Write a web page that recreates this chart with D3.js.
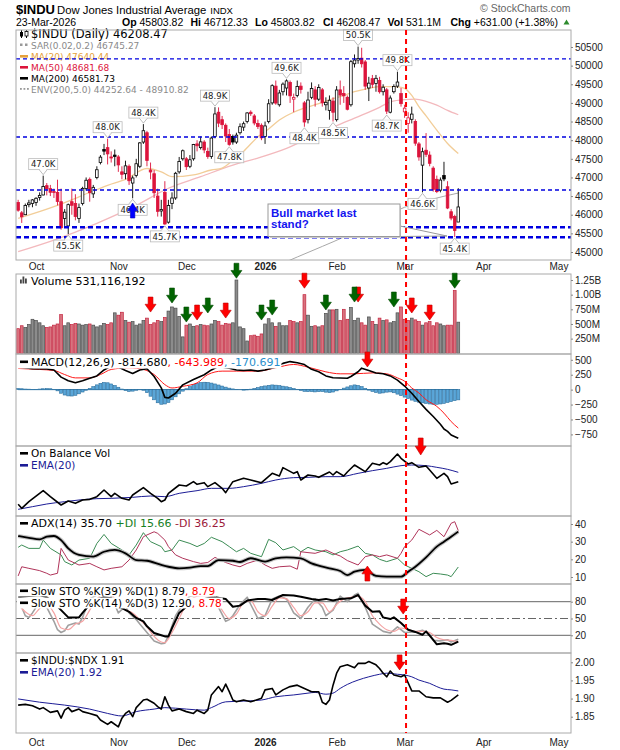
<!DOCTYPE html>
<html>
<head>
<meta charset="utf-8">
<script src="https://cdn.jsdelivr.net/npm/d3@7"></script>
<style>
  body { margin: 0; background: #fff; }
  svg { display: block; }
  .axis text { font-family: "Liberation Sans", Arial, sans-serif; font-size: 10px; fill: #222; }
  .axis line { stroke: #888; }
  .axis path { display: none; }
  .leg { font-family: "DejaVu Sans", Verdana, sans-serif; font-size: 11px; }
  .leg.small { font-size: 9px; }
  .leg.big { font-size: 11.5px; }
  .leg.pair { font-size: 10.5px; }
  .hdr { font-family: "Liberation Sans", Arial, sans-serif; fill: #000; }
</style>
</head>
<body>
<svg id="chart" width="620" height="750"></svg>
<script>
// ---- daily candles, 24-Sep-2025 .. 23-Mar-2026 ----
const opens = [46330,46050,46000,46270,46300,46330,46460,46530,46780,46700,
  46620,46600,46350,45900,45700,46350,46300,45900,46300,46700,
  46950,46560,47000,47400,47750,47800,47550,47600,47550,47150,
  47100,47300,46850,47050,47300,47950,48200,47200,47100,46500,
  46100,46600,45800,46300,46450,47150,47500,47500,47300,47500,
  47900,47800,47950,47700,47560,48100,48750,48550,48400,48150,
  48100,47950,48200,48350,48500,48750,48650,48450,48400,48100,
  48500,49000,49450,48950,49300,49400,49550,49100,49200,49450,
  49000,48550,49150,49350,49100,49350,48950,48800,49050,48550,
  49350,49250,49150,48950,50050,50150,50200,50100,49400,49650,
  49520,49600,49300,49350,48750,49300,49450,49250,48760,48450,
  48560,48500,47900,47330,47730,47600,47250,46950,46660,47050,
  46750,46080,45950,45803.82];
const highs = [46400,46100,46300,46400,46420,46470,46600,47049,46850,46800,
  46700,46940,46700,46150,46300,46700,46550,46300,46750,47000,
  47000,46800,47300,47600,47900,48040,47700,47750,47600,47300,
  47450,47350,47050,47500,47950,48431,48250,47400,47200,46700,
  46400,46900,46400,46600,47150,47550,47750,47550,47600,47900,
  48000,48100,48000,47800,48100,48886,48880,48650,48450,48300,
  48150,48200,48450,48500,48750,48800,48700,48550,48450,48500,
  49100,49500,49600,49350,49550,49633,49600,49250,49600,49550,
  49050,49300,49550,49450,49500,49400,49150,49200,49150,49450,
  49600,49450,49200,50150,50300,50512,50480,50150,49700,49750,
  49750,49700,49500,49400,49200,49500,49838,49400,48950,48750,
  48900,48560,47950,47800,48190,47700,47300,47050,47000,47420,
  46900,46150,46000,46712.33];
const lows = [46080,45780,45990,46200,46200,46240,46380,46520,46520,46500,
  46450,46250,45600,45700,45480,46000,45850,45780,46250,46650,
  46350,46450,46950,47350,47600,47350,47400,47300,47150,46950,
  46950,46800,46440,47000,47250,47900,47300,46950,46450,45950,
  45950,45728,45760,46150,46400,47100,47450,47200,47250,47450,
  47700,47750,47650,47500,47500,48050,48350,48300,47950,47850,
  47880,47900,48150,48250,48450,48650,48400,48300,48000,47900,
  48450,48950,48950,48900,49200,49200,49000,48750,49150,49250,
  48360,48450,49100,48900,49050,48900,48800,48550,48500,48500,
  48950,49000,48800,48900,49950,50050,49950,49350,49050,49400,
  49300,49250,49200,48700,48720,49250,49400,48900,48600,48200,
  48450,47850,47450,46600,47550,47300,46620,46580,46600,46900,
  46150,45850,45400,45803.82];
const closes = [46121,45947,46247,46316,46398,46441,46519,46758,46695,46603,
  46602,46358,45650,46068,46270,46253,45952,46191,46707,46925,
  46590,46735,47207,47545,47706,47632,47522,47563,47337,47085,
  47311,46912,46987,47368,47927,48254,47457,47147,46590,46091,
  46138,45752,46245,46448,47112,47427,47716,47289,47474,47882,
  47850,47955,47739,47560,48057,48704,48458,48416,48114,47886,
  47951,48135,48362,48442,48731,48710,48461,48367,48063,48382,
  48977,49462,48996,49266,49504,49590,49191,49149,49442,49359,
  48488,49077,49384,49098,49412,49003,49015,49071,48750,49346,
  49210,49190,48830,50106,50150,50190,50050,49450,49530,49500,
  49660,49300,49420,48780,49130,49440,49560,48980,48860,48600,
  48700,47920,47550,47690,47620,47380,46680,46620,46930,46960,
  46180,45910,45577.47,46208.47];
const prevClose0 = 46292;

// volume, millions
const volumes = [420,470,440,490,580,560,520,470,440,450,
  480,500,660,470,520,490,510,500,480,490,
  500,480,450,470,510,490,520,690,650,700,
  560,530,540,480,500,560,600,490,520,560,
  540,610,720,790,770,630,280,480,500,460,
  470,490,480,470,500,560,540,480,510,500,
  520,1250,450,420,210,300,310,290,330,500,
  590,520,460,520,470,470,560,540,520,540,
  1000,650,460,470,450,470,680,740,740,750,
  560,750,580,780,560,600,520,480,620,540,
  490,600,560,570,520,540,690,790,580,560,
  600,570,540,480,520,540,470,520,500,470,
  480,480,1070,531];

// moving averages [day index, price]
const ma20 = [[0,45900],[10,46215],[17,46480],[25,46790],[30,46950],[36,47240],[40,47150],[43,47020],[49,47070],[54,47200],[57,47250],[60,47460],[63,47700],[67,48090],[70,48300],[73,48540],[77,48750],[80,48860],[84,48980],[87,49080],[91,49200],[94,49300],[98,49390],[101,49435],[104,49435],[106,49430],[108,49390],[110,49200],[112,48900],[114,48650],[117,48270],[120,47910],[123,47640]];
const ma50 = [[0,45010],[10,45320],[22,45770],[33,46250],[42,46710],[51,47020],[60,47330],[67,47520],[75,47780],[84,48185],[94,48590],[101,48880],[104,49030],[108,49090],[111,49100],[114,49040],[117,48940],[120,48800],[123,48682]];
const ma200 = [[74,44700],[78,44866],[85,45150],[91,45400],[100,45830],[108,46200],[115,46400],[123,46582]];

const levelsThin = [50180, 48085, 46663];
const levelsThick = [45665, 45395];
const peakLabels = [[7,"47.0K","hi"],[14,"45.5K","lo"],[25,"48.0K","hi"],[32,"46.4K","lo"],[35,"48.4K","hi"],[41,"45.7K","lo"],[55,"48.9K","hi"],[59,"47.8K","lo"],[75,"49.6K","hi"],[80,"48.4K","lo"],[88,"48.5K","lo"],[95,"50.5K","hi"],[103,"48.7K","lo"],[106,"49.8K","hi"],[113,"46.6K","lo"],[122,"45.4K","lo"]];

// MACD
const macdLine = [[0,380],[4,350],[8,345],[10,330],[12,210],[14,150],[16,115],[18,150],[20,190],[22,230],[24,330],[26,400],[28,380],[30,320],[32,270],[34,330],[36,350],[38,220],[40,30],[41,-130],[42,-140],[44,-60],[46,80],[49,170],[52,250],[54,330],[56,390],[59,360],[61,330],[63,320],[65,330],[67,310],[69,330],[72,380],[74,440],[76,470],[78,450],[80,420],[82,340],[84,300],[86,230],[88,200],[90,195],[92,190],[93,220],[95,300],[96,360],[98,320],[100,280],[102,265],[104,230],[106,160],[108,60],[110,-60],[112,-200],[114,-330],[116,-450],[118,-580],[119,-660],[120,-700],[121,-760],[123,-815]];
const macdSignal = [[0,355],[6,338],[10,321],[13,253],[16,197],[20,197],[23,253],[26,338],[31,366],[35,338],[38,253],[41,84],[43,28],[46,56],[50,113],[53,253],[57,310],[61,310],[67,310],[72,366],[77,422],[81,377],[86,298],[90,265],[94,265],[99,281],[103,265],[106,197],[108,141],[110,28],[112,-56],[114,-169],[117,-281],[119,-394],[121,-535],[123,-644]];
const macdHist = [20,15,10,8,5,5,10,15,18,15,
  5,-20,-60,-90,-105,-107,-95,-70,-40,-10,
  20,50,80,105,120,115,95,70,40,10,
  -15,-30,-25,-10,5,-10,-50,-110,-170,-220,
  -245,-240,-215,-170,-120,-70,-25,15,50,85,
  105,118,124,120,110,95,78,60,42,25,
  12,5,0,-8,-4,8,20,35,50,62,
  72,79,75,68,58,48,35,18,2,-12,
  -28,-34,-32,-38,-34,-32,-42,-50,-40,-20,
  5,25,45,65,79,70,50,22,-8,-30,
  -48,-60,-55,-42,-38,-52,-75,-100,-125,-150,
  -175,-195,-210,-222,-232,-240,-245,-245,-240,-230,
  -215,-200,-185,-171];

// On Balance Volume (billions)
const obvLine = [[0,1.7],[1,0.5],[3,2.5],[7,5.8],[9,4.0],[12,1.5],[14,2.7],[16,2.0],[18,3.0],[20,3.2],[22,4.0],[24,6.0],[26,4.0],[27,5.0],[29,3.5],[31,3.0],[32,4.5],[35,6.7],[37,5.0],[39,3.5],[40,2.5],[41,3.0],[42,5.0],[45,7.5],[47,7.2],[49,8.5],[50,7.7],[52,8.2],[53,7.0],[55,8.2],[57,6.5],[58,5.2],[60,8.5],[63,9.5],[65,9.0],[68,8.2],[71,11.0],[73,10.2],[74,12.7],[77,11.0],[78,11.5],[79,9.0],[81,10.5],[83,10.2],[84,9.8],[87,11.4],[88,10.5],[89,11.5],[91,10.2],[92,11.4],[94,13.5],[97,11.5],[99,14.0],[101,13.5],[102,14.2],[103,13.7],[104,14.5],[106,16.8],[107,15.5],[109,13.8],[110,14.2],[112,12.8],[114,13.2],[115,12.0],[117,9.5],[119,11.0],[120,10.0],[121,7.8],[123,8.5]];
const obvEma = [[0,0.2],[4,1.0],[8,1.8],[13,2.5],[17,3.0],[22,3.4],[26,3.5],[32,3.8],[37,4.2],[41,4.0],[45,5.0],[50,5.8],[54,6.5],[59,6.5],[63,7.0],[68,8.0],[72,9.0],[77,9.7],[81,9.8],[86,10.0],[90,10.0],[95,11.0],[99,11.8],[103,12.5],[107,13.3],[110,13.5],[114,13.3],[117,12.8],[120,12.2],[123,11.3]];

// ADX / DI
const adxLine = [[0,33.2],[3,32.2],[6,31.3],[8,32.8],[10,33.2],[12,30.9],[14,26.2],[17,22.5],[21,21.5],[24,24.3],[27,25.3],[30,23.4],[33,19.6],[36,19.2],[40,16.8],[42,15.8],[45,14.9],[48,15.3],[51,16.2],[53,16.2],[56,19.6],[60,19.2],[62,18.5],[65,20.6],[69,18.7],[72,20.6],[75,21.1],[79,20.6],[82,17.7],[87,14.9],[90,13.4],[92,11.1],[94,13],[97,14],[100,10.6],[103,10.2],[107,10.2],[109,13],[111,15.8],[114,21.1],[117,27.2],[119,30],[121,32.8],[123,35.7]];
const plusDI = [[0,26.8],[1,28.1],[3,26.2],[6,26.2],[7,30.9],[9,26.2],[12,22.5],[13,18.7],[15,16.8],[17,19.6],[20,20.6],[22,29],[24,34.1],[26,29],[29,25.3],[31,22.5],[33,28.1],[35,35.1],[37,30],[40,27.2],[41,24.3],[43,25.3],[45,30.9],[48,29],[50,27.2],[52,29],[54,32.5],[57,30],[59,27.2],[61,24.3],[63,26.2],[65,23.4],[68,21.5],[70,31.3],[72,29.4],[74,25.3],[77,27.2],[79,24.3],[81,26.8],[83,25.3],[86,24.3],[88,22.5],[90,24.3],[92,25.3],[95,27.5],[97,23.4],[99,22.5],[101,20],[103,18.7],[106,20.6],[108,16.8],[110,14.9],[112,13],[114,10.2],[116,12.1],[118,11.7],[120,11.1],[121,10.2],[123,15.66]];
const minusDI = [[0,10.6],[1,15.8],[3,14.9],[6,13.6],[8,12.1],[9,11.1],[11,12.1],[12,26.2],[14,19.6],[16,17.7],[17,16.8],[20,17.7],[22,15.8],[24,14],[26,14.9],[29,15.8],[31,19.6],[33,25.3],[35,32.8],[36,33.8],[38,35.6],[39,34.7],[41,30.9],[42,27.2],[44,22.5],[46,20.6],[49,18.7],[51,17.7],[53,18.2],[55,21.1],[58,18.2],[60,16.8],[62,15.8],[64,17.7],[67,19.6],[69,16.8],[71,14.9],[73,15.8],[76,16.2],[78,14.4],[79,24.3],[81,23.8],[83,23.4],[86,25.3],[88,23.4],[90,21.9],[92,19.3],[95,16.8],[97,21.5],[99,22.5],[101,21.5],[103,22.5],[106,20.6],[107,23.4],[108,27.2],[110,30.9],[112,37],[115,33.8],[117,36.4],[119,32.8],[121,40.4],[122,41.3],[123,36.25]];

// Slow stochastics
const sto39 = [[0,88],[3,90],[6,92],[8,88],[10,78],[12,65],[14,52],[17,52],[18,60],[20,75],[22,84],[24,88],[26,86],[28,72],[31,62],[33,51],[35,45],[36,36],[38,24],[40,20],[41,18],[42,18],[43,33],[45,60],[47,71],[49,80],[51,83],[53,86],[55,88],[58,85],[60,71],[62,73],[64,82],[67,85],[69,85],[71,83],[74,92],[77,91],[79,89],[82,85],[84,83],[86,85],[88,82],[90,85],[93,86],[95,92],[97,73],[99,62],[101,63],[102,52],[104,49],[105,52],[107,42],[109,30],[111,26],[113,21],[114,27],[116,12],[117,4],[119,6],[120,5],[121,3],[123,8.79]];
const sto14K = [[0,78],[1,70],[2,55],[3,52],[4,60],[6,80],[8,70],[10,45],[11,30],[12,25],[13,28],[14,38],[16,42],[17,40],[18,52],[20,85],[22,92],[24,95],[26,90],[27,75],[28,60],[30,72],[31,60],[33,48],[34,40],[36,25],[38,10],[40,5],[41,6],[42,19],[44,55],[46,75],[48,90],[50,92],[52,93],[54,90],[56,70],[58,45],[59,48],[60,55],[62,75],[64,88],[65,75],[67,50],[69,55],[71,85],[73,90],[75,85],[77,60],[79,50],[81,70],[83,85],[85,70],[86,55],[88,65],[90,90],[92,80],[94,92],[95,95],[97,70],[99,40],[102,27],[104,24],[106,35],[108,25],[111,26],[113,29],[115,22],[116,11],[118,10],[120,12],[121,8],[123,12.9]];
const sto14D = [[0,75],[2,62],[4,55],[6,68],[8,75],[10,60],[12,33],[14,30],[16,40],[18,45],[20,65],[22,85],[24,93],[26,92],[28,75],[30,65],[32,60],[34,48],[36,35],[38,18],[40,8],[41,7],[43,25],[45,50],[47,75],[49,87],[51,91],[53,91],[55,85],[57,65],[59,50],[61,58],[63,78],[65,82],[67,62],[69,55],[71,72],[73,87],[75,85],[77,70],[79,55],[81,62],[83,78],[85,78],[87,62],[89,75],[91,85],[93,88],[95,90],[97,80],[99,55],[101,40],[103,30],[105,27],[107,33],[109,30],[111,27],[113,27],[115,25],[117,16],[119,12],[121,11],[123,8.78]];

// $INDU:$NDX ratio
const ratioLine = [[0,1.882],[2,1.884],[4,1.880],[6,1.871],[7,1.875],[9,1.862],[11,1.866],[12,1.846],[13,1.868],[14,1.875],[15,1.864],[17,1.871],[18,1.864],[20,1.859],[22,1.853],[23,1.841],[25,1.829],[26,1.836],[28,1.822],[29,1.846],[30,1.859],[31,1.866],[32,1.850],[33,1.875],[35,1.896],[36,1.898],[38,1.887],[39,1.878],[40,1.871],[41,1.905],[42,1.882],[43,1.866],[45,1.871],[47,1.864],[49,1.859],[50,1.868],[52,1.859],[53,1.868],[54,1.910],[56,1.933],[57,1.919],[58,1.940],[59,1.919],[60,1.896],[61,1.891],[63,1.896],[65,1.891],[68,1.901],[69,1.924],[71,1.928],[72,1.910],[74,1.924],[76,1.933],[78,1.937],[80,1.928],[82,1.919],[84,1.919],[85,1.890],[86,1.884],[87,1.896],[88,1.937],[89,1.970],[90,1.988],[92,1.993],[94,1.985],[95,1.997],[97,1.997],[98,2.002],[100,1.993],[101,1.983],[102,1.970],[103,1.960],[104,1.976],[105,1.965],[107,1.960],[108,1.965],[110,1.921],[112,1.921],[114,1.905],[116,1.902],[118,1.902],[120,1.890],[121,1.895],[123,1.910]];
const ratioEma = [[0,1.899],[6,1.890],[13,1.882],[20,1.871],[25,1.859],[29,1.852],[33,1.864],[38,1.871],[41,1.875],[47,1.871],[52,1.868],[54,1.875],[58,1.891],[63,1.893],[68,1.896],[72,1.905],[77,1.910],[81,1.915],[83,1.917],[86,1.912],[88,1.915],[90,1.928],[92,1.939],[95,1.951],[98,1.960],[101,1.967],[103,1.970],[106,1.967],[108,1.965],[110,1.960],[112,1.951],[115,1.942],[117,1.933],[119,1.926],[121,1.924],[123,1.921]];

// annotation arrows: [day index, value at tip]
const volArrowsRed = [[37,703],[50,567],[58,601],[80,1110],[95,874],[110,687],[115,567]];
const volArrowsGreen = [[43,857],[47,533],[53,687],[61,1280],[68,567],[71,652],[86,738],[94,874],[105,789],[122,1110]];

const monthIdx = [5, 28, 47, 69, 89, 108, 130, 151];
const monthNames = ["Oct", "Nov", "Dec", "2026", "Feb", "Mar", "Apr", "May"];

// ---------------------------------------------------------------
const svg = d3.select("#chart");
const L = 16, R = 571;
const x = d3.scaleLinear().domain([-0.6, 154.5]).range([L, R]);

const panels = {
  price: [30, 260], vol: [274, 354], macd: [354, 446], obv: [446, 516],
  adx: [516, 584], sto: [584, 653], ratio: [653, 733],
};

const yPrice = d3.scaleLinear().domain([45000, 50500]).range([252, 47]);
const yVol = d3.scaleLinear().domain([0, 1250]).range([353.3, 280]);
const yMacd = d3.scaleLinear().domain([-750, 500]).range([434.4, 359.8]);
const yObv = d3.scaleLinear().domain([-1.8, 19.2]).range([516, 446]);
const yAdx = d3.scaleLinear().domain([10, 40]).range([577, 524]);
const ySto = d3.scaleLinear().domain([20, 80]).range([635.3, 601.7]);
const yRatio = d3.scaleLinear().domain([1.85, 2.0]).range([716.7, 662.3]);

const defs = svg.append("defs");
Object.entries(panels).forEach(([name, [t, b]]) => {
  defs.append("clipPath").attr("id", "clip-" + name)
    .append("rect").attr("x", L).attr("y", t).attr("width", R - L).attr("height", b - t);
});
const layer = name => svg.append("g").attr("clip-path", `url(#clip-${name})`);

const lineOf = (y, curve) => d3.line().x(d => x(d[0])).y(d => y(d[1])).curve(curve || d3.curveLinear);
function drawLine(g, data, y, color, width, curve) {
  return g.append("path").datum(data).attr("fill", "none").attr("stroke", color)
    .attr("stroke-width", width).attr("stroke-linejoin", "round").attr("d", lineOf(y, curve));
}

const RED = "#dc143c";
const days = closes.map((c, i) => ({
  i, o: opens[i], h: highs[i], l: lows[i], c,
  up: c >= (i ? closes[i - 1] : prevClose0),
}));

// ---- header ----
svg.append("text").attr("class", "hdr").attr("x", 16).attr("y", 14)
  .style("font-size", "13px").style("font-weight", "bold").text("$INDU");
const titleEl = svg.append("text").attr("class", "hdr").attr("x", 57).attr("y", 14)
  .style("font-size", "11.3px").text("Dow Jones Industrial Average");
const titleEnd = 57 + titleEl.node().getComputedTextLength();
svg.append("text").attr("class", "hdr").attr("x", titleEnd + 4).attr("y", 14)
  .style("font-size", "9.5px").text("INDX");
svg.append("text").attr("class", "hdr").attr("x", 480).attr("y", 12)
  .style("font-size", "10.5px").style("fill", "#666").text("\u00A9 StockCharts.com");
svg.append("text").attr("class", "hdr").attr("x", 16).attr("y", 25.5)
  .style("font-size", "10.5px").text("23-Mar-2026");
const quote = [[122, "Op", "45803.82"], [190.5, "Hi", "46712.33"], [255, "Lo", "45803.82"],
  [323, "Cl", "46208.47"], [387.5, "Vol", "531.1M"], [450.5, "Chg", "+631.00 (+1.38%)"]];
quote.forEach(([qx, k, v]) => {
  const t = svg.append("text").attr("class", "hdr").attr("x", qx).attr("y", 25.5).style("font-size", "10.5px");
  t.append("tspan").style("font-weight", "bold").text(k + " ");
  t.append("tspan").text(v);
});
svg.append("path").attr("d", "M563.5,24.5 L566.5,19.5 L569.5,24.5 Z").attr("fill", "#2e8b2e");

// ---- price panel ----
const gp = layer("price");
drawLine(gp, ma200, yPrice, "#a8a8a8", 1, d3.curveMonotoneX);
drawLine(gp, ma50, yPrice, "#f3b9bd", 1.3, d3.curveMonotoneX);
drawLine(gp, ma20, yPrice, "#f2cd98", 1.3, d3.curveMonotoneX);

const cw = 2.6;
gp.selectAll("line.wick").data(days).join("line").attr("class", "wick")
  .attr("x1", d => x(d.i)).attr("x2", d => x(d.i))
  .attr("y1", d => yPrice(d.h)).attr("y2", d => yPrice(d.l))
  .attr("stroke", d => d.up ? "#000" : RED).attr("stroke-width", 0.9);
gp.selectAll("rect.body").data(days).join("rect").attr("class", "body")
  .attr("x", d => x(d.i) - cw / 2).attr("width", cw)
  .attr("y", d => yPrice(Math.max(d.o, d.c)))
  .attr("height", d => Math.max(0.8, Math.abs(yPrice(d.o) - yPrice(d.c))))
  .attr("fill", d => d.c < d.o ? (d.up ? "#000" : RED) : "#fff")
  .attr("stroke", d => d.up ? "#000" : RED).attr("stroke-width", 0.8);

// legend
function legendLine(y, parts, bg, cls) {
  const g = svg.append("g");
  const t = g.append("text").attr("class", "leg" + (cls ? " " + cls : "")).attr("x", 31).attr("y", y);
  parts.forEach(([s, c]) => t.append("tspan").attr("fill", c).text(s));
  if (bg) {
    const b = t.node().getBBox();
    g.insert("rect", "text").attr("x", L + 1).attr("y", b.y + 1)
      .attr("width", b.x + b.width - L).attr("height", b.height - 1).attr("fill", "#fff");
  }
  return g;
}
function iconDash(y, color, h) {
  svg.append("rect").attr("x", 20).attr("y", y - 5).attr("width", 8).attr("height", h || 2.6).attr("fill", color);
}

legendLine(38, [["$INDU (Daily) 46208.47", "#000"]], false, "big");
svg.append("line").attr("x1", 21.5).attr("x2", 21.5).attr("y1", 30).attr("y2", 38).attr("stroke", "#000");
svg.append("rect").attr("x", 20).attr("y", 32).attr("width", 3).attr("height", 4.5).attr("fill", "#000");
svg.append("line").attr("x1", 26.5).attr("x2", 26.5).attr("y1", 30).attr("y2", 38).attr("stroke", "#000");
svg.append("rect").attr("x", 25).attr("y", 31.5).attr("width", 3).attr("height", 4.5).attr("fill", "#fff").attr("stroke", "#000").attr("stroke-width", 0.8);
legendLine(49, [["SAR(0.02,0.2) 46745.27", "#8a8a8a"]], false, "small");
svg.append("rect").attr("x", 20).attr("y", 43.5).attr("width", 2.5).attr("height", 2.5).attr("fill", "#999");
svg.append("rect").attr("x", 25).attr("y", 43.5).attr("width", 2.5).attr("height", 2.5).attr("fill", "#999");
legendLine(60, [["MA(20) 47640.44", "#e6a23c"]], false, "small");
iconDash(60, "#e6a23c");
legendLine(71, [["MA(50) 48681.68", RED]], false, "small");
iconDash(71, RED);
legendLine(82, [["MA(200) 46581.73", "#000"]], false, "small");
iconDash(82, "#000");
legendLine(93, [["ENV(200,5.0) 44252.64 - 48910.82", "#8a8a8a"]], false, "small");
[20, 23.5, 27].forEach(px => svg.append("rect").attr("x", px).attr("y", 88).attr("width", 1.8).attr("height", 1.8).attr("fill", "#999"));

// support / resistance levels
const ga = svg.append("g");
levelsThin.forEach(v => ga.append("line").attr("x1", L).attr("x2", R).attr("y1", yPrice(v)).attr("y2", yPrice(v))
  .attr("stroke", "#0000e0").attr("stroke-width", 1.3).attr("stroke-dasharray", "4,3"));
levelsThick.forEach(v => ga.append("line").attr("x1", L).attr("x2", R).attr("y1", yPrice(v)).attr("y2", yPrice(v))
  .attr("stroke", "#0000e0").attr("stroke-width", 2.6).attr("stroke-dasharray", "5,3"));

// callout
ga.append("path").attr("d", "M400,226 L447,236 L400,236.5").attr("fill", "#fff").attr("stroke", "#999").attr("stroke-width", 1);
ga.append("rect").attr("x", 270).attr("y", 206).attr("width", 131).attr("height", 32).attr("fill", "#ccc");
ga.append("rect").attr("x", 268).attr("y", 204).attr("width", 132).attr("height", 32.5).attr("fill", "#fff").attr("stroke", "#999");
["Bull market last", "stand?"].forEach((s, k) => ga.append("text").attr("x", 271).attr("y", 216.5 + k * 11.8)
  .style("font-family", "'Liberation Sans', Arial, sans-serif").style("font-size", "11.5px").style("font-weight", "bold")
  .attr("fill", "#1414f0").text(s));

// peak labels
const gl = svg.append("g");
gl.style("font-family", "'DejaVu Sans', Verdana, sans-serif").style("font-size", "8.5px");
peakLabels.forEach(([i, txt, side]) => {
  const cx = x(i);
  const hi = side === "hi";
  const tip = hi ? yPrice(highs[i]) - 1 : yPrice(lows[i]) + 1;
  const edge = hi ? tip - 5 : tip + 5;
  const bw = 29, bh = 11;
  const top = hi ? edge - bh : edge;
  gl.append("path").attr("d", `M${cx - 4},${edge} L${cx},${tip} L${cx + 4},${edge}`)
    .attr("fill", "#fff").attr("stroke", "#aaa").attr("stroke-width", 0.8);
  gl.append("rect").attr("x", cx - bw / 2).attr("y", top).attr("width", bw).attr("height", bh)
    .attr("fill", "#fff").attr("stroke", "#bbb").attr("stroke-width", 0.8);
  gl.append("line").attr("x1", cx - 3.3).attr("x2", cx + 3.3).attr("y1", edge).attr("y2", edge).attr("stroke", "#fff").attr("stroke-width", 1.2);
  gl.append("text").attr("x", cx).attr("y", top + 8.7).attr("text-anchor", "middle").attr("fill", "#222").text(txt);
});

// arrows
function arrow(g, cx, tip, dir, color, w, h) {
  w = w || 11; h = h || 15;
  const hw = w / 2, sw = w * 0.22, hh = h * 0.52;
  const s = dir === "down" ? 1 : -1;
  const pts = [[cx, tip], [cx + hw, tip - s * hh], [cx + sw, tip - s * hh], [cx + sw, tip - s * h],
    [cx - sw, tip - s * h], [cx - sw, tip - s * hh], [cx - hw, tip - s * hh]];
  g.append("polygon").attr("points", pts.map(p => p.join(",")).join(" "))
    .attr("fill", color).attr("stroke", d3.color(color).darker(0.8)).attr("stroke-width", 0.6);
}
arrow(svg, x(32), 203, "up", "#0000ff", 10, 15);

// ---- volume ----
const gv = layer("vol");
gv.selectAll("rect").data(days).join("rect")
  .attr("x", d => x(d.i) - 1.4).attr("width", 2.8)
  .attr("y", d => yVol(volumes[d.i])).attr("height", d => yVol(0) - yVol(volumes[d.i]))
  .attr("fill", d => d.up ? "#8c8c8c" : "#d8737f")
  .attr("stroke", d => d.up ? "#4d4d4d" : "#c4243e").attr("stroke-width", 0.7);
legendLine(284.5, [["Volume 531,116,192", "#000"]]);
[[20, 4], [22.5, 7], [25, 5]].forEach(([bx, bh]) => svg.append("rect").attr("x", bx).attr("y", 283.5 - bh).attr("width", 1.8).attr("height", bh).attr("fill", "#444"));

// ---- MACD ----
const gm = layer("macd");
gm.append("line").attr("x1", x(0)).attr("x2", x(123)).attr("y1", yMacd(0)).attr("y2", yMacd(0)).attr("stroke", "#2b6f9e").attr("stroke-width", 1);
gm.selectAll("rect").data(macdHist).join("rect")
  .attr("x", (d, i) => x(i) - 1.5).attr("width", 3)
  .attr("y", d => Math.min(yMacd(d), yMacd(0))).attr("height", d => Math.abs(yMacd(d) - yMacd(0)))
  .attr("fill", "#5aa6d8").attr("stroke", "#2b6f9e").attr("stroke-width", 0.6);
drawLine(gm, macdSignal, yMacd, "#ff1a1a", 1, d3.curveMonotoneX);
drawLine(gm, macdLine, yMacd, "#000", 1.6);
legendLine(365.5, [["MACD(12,26,9) -814.680", "#000"], [", -643.989", "#ff0000"], [", -170.691", "#2a8fcc"]], true);
iconDash(365.5, "#000");

// ---- OBV ----
const go = layer("obv");
drawLine(go, obvEma, yObv, "#1c1c96", 1, d3.curveMonotoneX);
drawLine(go, obvLine, yObv, "#000", 1.6);
legendLine(457, [["On Balance Vol", "#000"]], false, "pair");
iconDash(457, "#000");
legendLine(469, [["EMA(20)", "#1c1c96"]], false, "pair");
iconDash(469, "#1c1c96");

// ---- ADX ----
const gd = layer("adx");
drawLine(gd, plusDI, yAdx, "#3c8c55", 1);
drawLine(gd, minusDI, yAdx, "#b0345a", 1);
drawLine(gd, adxLine, yAdx, "#c4c4c4", 4, d3.curveMonotoneX);
drawLine(gd, adxLine, yAdx, "#000", 1.8, d3.curveMonotoneX);
legendLine(527, [["ADX(14) 35.70 ", "#000"], ["+DI 15.66 ", "#17801f"], ["-DI 36.25", "#9c1a3a"]]);
iconDash(527, "#000");

// ---- Slow STO ----
const gs = layer("sto");
[80, 20].forEach(v => gs.append("line").attr("x1", L).attr("x2", R).attr("y1", ySto(v)).attr("y2", ySto(v)).attr("stroke", "#666").attr("stroke-width", 1));
gs.append("line").attr("x1", L).attr("x2", R).attr("y1", ySto(50)).attr("y2", ySto(50))
  .attr("stroke", "#666").attr("stroke-width", 1).attr("stroke-dasharray", "8,3,2,3");
drawLine(gs, sto14K, ySto, "#a0a0a0", 1.6);
drawLine(gs, sto14D, ySto, "#f4a3a3", 1.2, d3.curveMonotoneX);
drawLine(gs, sto39, ySto, "#000", 2);
legendLine(594.5, [["Slow STO %K(39) %D(1) 8.79", "#000"], [", 8.79", "#ff0000"]], true, "pair");
iconDash(594.5, "#000");
legendLine(606.5, [["Slow STO %K(14) %D(3) 12.90", "#000"], [", 8.78", "#ff0000"]], true, "pair");
iconDash(606.5, "#000");

// ---- ratio ----
const gr = layer("ratio");
drawLine(gr, ratioEma, yRatio, "#1c1c96", 1, d3.curveMonotoneX);
drawLine(gr, ratioLine, yRatio, "#000", 1.6);
legendLine(664, [["$INDU:$NDX 1.91", "#000"]], false, "pair");
iconDash(664, "#000");
legendLine(676, [["EMA(20) 1.92", "#1c1c96"]], false, "pair");
iconDash(676, "#1c1c96");

// ---- panel borders ----
Object.values(panels).forEach(([t, b]) => svg.append("rect").attr("x", L).attr("y", t)
  .attr("width", R - L).attr("height", b - t).attr("fill", "none").attr("stroke", "#aaa").attr("stroke-width", 1));

// ---- annotations on top ----
const gt = svg.append("g");
volArrowsRed.forEach(([i, v]) => arrow(gt, x(i), yVol(v), "down", "#ff0000"));
volArrowsGreen.forEach(([i, v]) => arrow(gt, x(i), yVol(v), "down", "#006400"));
arrow(gt, x(97.6), yMacd(380), "down", "#ff0000");
arrow(gt, x(112.5), yObv(16.5), "down", "#ff0000", 11, 17);
arrow(gt, x(97.6), yAdx(16.2), "up", "#ff0000");
arrow(gt, x(107.6), ySto(58), "down", "#ff0000");
arrow(gt, x(106.6), yRatio(1.979), "down", "#ff0000");
gt.append("line").attr("x1", x(108.4)).attr("x2", x(108.4)).attr("y1", 30).attr("y2", 733)
  .attr("stroke", "#ff0000").attr("stroke-width", 2).attr("stroke-dasharray", "5,4");

// ---- axes ----
function rightAxis(scale, values, fmt) {
  svg.append("g").attr("class", "axis").attr("transform", `translate(${R},0)`)
    .call(d3.axisRight(scale).tickValues(values).tickFormat(fmt).tickSize(2).tickPadding(2));
}
rightAxis(yPrice, d3.range(45000, 50501, 500), d3.format("d"));
rightAxis(yVol, [250, 500, 750, 1000, 1250], v => v >= 1000 ? (v / 1000).toFixed(2) + "B" : v + "M");
rightAxis(yMacd, [500, 250, 0, -250, -500, -750], d3.format("d"));
rightAxis(yAdx, [10, 20, 30, 40], d3.format("d"));
rightAxis(ySto, [20, 50, 80], d3.format("d"));
rightAxis(yRatio, [1.85, 1.9, 1.95, 2.0], d3.format(".2f"));

function monthAxis(yPos) {
  const g = svg.append("g").attr("class", "axis").attr("transform", `translate(0,${yPos})`)
    .call(d3.axisBottom(x).tickValues(monthIdx).tickFormat((d, k) => monthNames[k]).tickSize(0).tickPadding(0));
  g.selectAll("text").attr("dy", null).attr("y", 3.6)
    .style("font-weight", (d, k) => monthNames[k] === "2026" ? "bold" : null);
}
monthAxis(266);
monthAxis(742);
</script>
</body>
</html>
